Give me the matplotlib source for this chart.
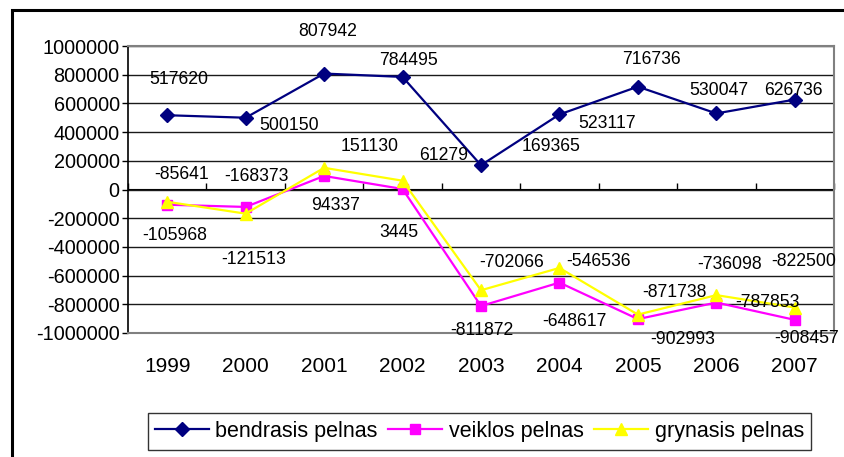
import numpy as np
import matplotlib
matplotlib.use('Agg')
import matplotlib.pyplot as plt
from matplotlib.patches import Rectangle

plt.rcParams['font.family'] = ['Liberation Sans', 'DejaVu Sans']
plt.rcParams['axes.unicode_minus'] = False

years = ['1999', '2000', '2001', '2002', '2003', '2004', '2005', '2006', '2007']
bendrasis = [517620, 500150, 807942, 784495, 169365, 523117, 716736, 530047, 626736]
veiklos = [-105968, -121513, 94337, 3445, -811872, -648617, -902993, -787853, -908457]
grynasis = [-85641, -168373, 151130, 61279, -702066, -546536, -871738, -736098, -822500]

# label offsets from their points, in pixels (x right, y down)
off_bendrasis = [(12, -36), (43, 8), (4, -42), (6, -16), (70, -19), (48, 9), (14, -27), (3, -23), (-1, -9)]
off_veiklos = [(7, 31), (8, 53), (11, 30), (-4, 43), (1, 24), (15, 39), (45, 20), (51, 0), (12, 19)]
off_grynasis = [(14, -27), (11, -37), (46, -21), (41, -25), (31, -28), (39, -6), (37, -22), (13, -31), (9, -46)]

W, H = 844, 457
fig = plt.figure(figsize=(W / 100, H / 100), dpi=100)
ax = fig.add_axes([128 / W, 1 - 333 / H, (834 - 128) / W, (333 - 46) / H])

x = np.arange(len(years))
series = [
    (bendrasis, off_bendrasis, 'bendrasis pelnas', '#000080', 'D', 7),
    (veiklos, off_veiklos, 'veiklos pelnas', '#ff00ff', 's', 7),
    (grynasis, off_grynasis, 'grynasis pelnas', '#ffff00', '^', 9),
]
for vals, offs, name, col, mk, ms in series:
    ax.plot(x, vals, color=col, marker=mk, markersize=ms, lw=1.6, label=name, zorder=3)
    for i, v in enumerate(vals):
        ax.annotate(str(v), (i, v), xytext=(offs[i][0], -offs[i][1]),
                    textcoords='offset pixels', ha='center', va='center',
                    fontsize=12.7, zorder=4)

ax.set_xlim(-0.5, len(years) - 0.5)
ax.set_ylim(-1000000, 1000000)
ax.set_yticks(np.arange(-1000000, 1000001, 200000))
ax.set_yticklabels([str(v) for v in range(-1000000, 1000001, 200000)])
ax.yaxis.grid(True, color='#1a1a1a', lw=1)
ax.set_axisbelow(True)
ax.tick_params(axis='y', length=4.5, width=1, pad=1.5, labelsize=14.3)

ax.set_xticks(x)
ax.set_xticklabels(years)
ax.tick_params(axis='x', length=0, pad=17, labelsize=15)

for s in ['top', 'right', 'bottom']:
    ax.spines[s].set_color('#808080')
    ax.spines[s].set_linewidth(1.5)
ax.spines['left'].set_color('black')
ax.spines['left'].set_linewidth(1.2)

# category axis drawn at zero
sec = ax.secondary_xaxis(0.5)
sec.set_xticks(np.arange(-0.5, len(years), 1.0))
sec.set_xticklabels([])
sec.tick_params(axis='x', direction='out', length=4.5, width=1, color='black')
sec.spines['bottom'].set_color('black')
sec.spines['bottom'].set_linewidth(1.2)

leg = fig.legend(loc='center', bbox_to_anchor=((142 + 817) / 2 / W, 1 - (411 + 452) / 2 / H),
                 ncol=3, fontsize=15.5, frameon=True, fancybox=False,
                 handlelength=2.5, handletextpad=0.3, columnspacing=0.5,
                 borderpad=0.35, borderaxespad=0)
leg.get_frame().set_edgecolor('black')
leg.get_frame().set_linewidth(1)

fig.patches.append(Rectangle((12 / W, -0.2), 2, 1.2 - 10 / H, transform=fig.transFigure,
                             fill=False, edgecolor='black', lw=2.2))

fig.savefig('out.png', dpi=100)
